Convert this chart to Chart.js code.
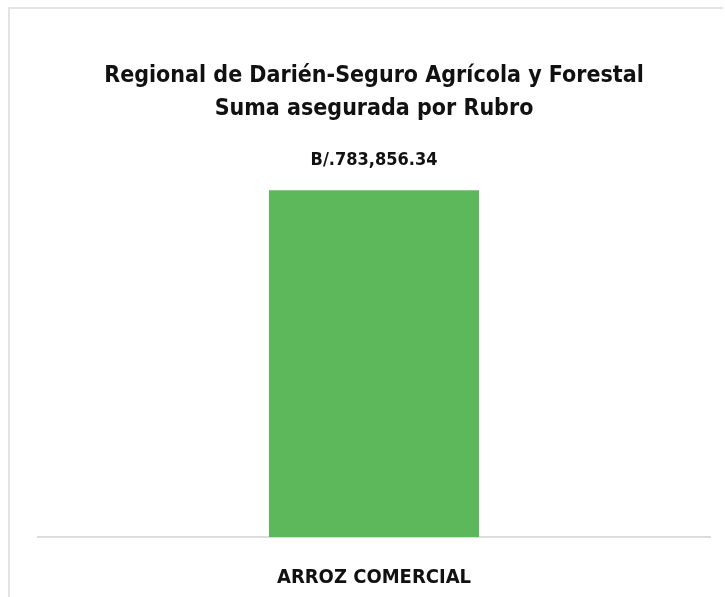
<!DOCTYPE html>
<html>
<head>
<meta charset="utf-8">
<script src="https://cdn.jsdelivr.net/npm/chart.js@4"></script>
<style>
  html, body { margin:0; padding:0; background:#fff; }
  #wrap { position:relative; width:725px; height:597px; }
  #frame { position:absolute; left:8px; top:7px; right:2px; bottom:0; border-top:2px solid #e4e4e4; border-left:2px solid #e4e4e4; }
  canvas { position:absolute; left:0; top:0; }
</style>
</head>
<body>
<div id="wrap">
  <div id="frame"></div>
  <canvas id="rubroChart" width="725" height="597"></canvas>
</div>
<script>
// datos
const titulo = ['Regional de Darién-Seguro Agrícola y Forestal', 'Suma asegurada por Rubro'];
const rubros = ['ARROZ COMERCIAL'];
const sumaAsegurada = [783856.34];
const prefijo = 'B/.';

const FONT = "'Liberation Sans Narrow', 'Arial Narrow', 'DejaVu Sans Condensed', sans-serif";

function fmtMonto(v) {
  return prefijo + v.toLocaleString('en-US', {minimumFractionDigits:2, maximumFractionDigits:2});
}

// etiqueta encima de la barra
const valorArriba = {
  id: 'valorArriba',
  afterDatasetsDraw(chart) {
    const ctx = chart.ctx;
    const meta = chart.getDatasetMeta(0);
    ctx.save();
    ctx.font = 'bold 18px ' + FONT;
    ctx.fillStyle = '#111';
    ctx.textAlign = 'center';
    ctx.textBaseline = 'middle';
    meta.data.forEach((bar, i) => {
      ctx.fillText(fmtMonto(sumaAsegurada[i]), bar.x, bar.y - 30);
    });
    ctx.restore();
  }
};

const chart = new Chart(document.getElementById('rubroChart').getContext('2d'), {
  type: 'bar',
  data: {
    labels: rubros,
    datasets: [{
      data: sumaAsegurada,
      backgroundColor: '#5db85b',
      borderWidth: 0,
      categoryPercentage: 1,
      barPercentage: 0.3125
    }]
  },
  options: {
    responsive: false,
    animation: false,
    layout: { padding: { left: 38, right: 15, top: 0, bottom: 8 } },
    plugins: {
      legend: { display: false },
      tooltip: { enabled: false },
      title: {
        display: true,
        text: titulo,
        color: '#111',
        font: { family: FONT, size: 23, weight: 'bold', lineHeight: 1.43 },
        padding: { top: 60, bottom: 13 }
      }
    },
    scales: {
      x: {
        grid: { display: false },
        border: { color: '#dcdcdc', width: 2 },
        ticks: { color: '#111', padding: 21, font: { family: FONT, size: 20, weight: 'bold' } },
        afterFit(scale) { scale.height = 52; }
      },
      y: {
        display: false,
        min: 0,
        max: 900000
      }
    }
  },
  plugins: [valorArriba]
});
</script>
</body>
</html>
